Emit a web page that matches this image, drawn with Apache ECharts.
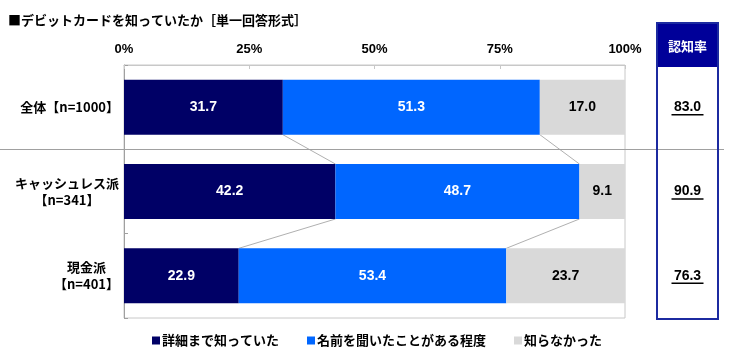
<!DOCTYPE html>
<html><head><meta charset="utf-8">
<script src="https://cdn.jsdelivr.net/npm/echarts@6/dist/echarts.min.js"></script>
<style>html,body{margin:0;padding:0;background:#fff}#c{width:732px;height:364px}</style>
</head><body><div id="c"></div>
<script>
const categories = ['全体【n=1000】', 'キャッシュレス派\n【n=341】', '現金派\n【n=401】'];
const seriesNames = ['詳細まで知っていた', '名前を聞いたことがある程度', '知らなかった'];
const detailed = [31.7, 42.2, 22.9];
const nameOnly = [51.3, 48.7, 53.4];
const unknown = [17.0, 9.1, 23.7];
const recognition = [83.0, 90.9, 76.3];
const xTickValues = [0, 25, 50, 75, 100];

const FONT = '"Noto Sans CJK JP", "Liberation Sans", sans-serif';
const NUMFONT = '"Liberation Sans", Arial, sans-serif';
const BAR_W = 55;
const colors = ['#000066', '#0066ff', '#d9d9d9'];
const labelColors = ['#ffffff', '#ffffff', '#000000'];
const BOX = {x: 657, y: 23, w: 61, h: 296, head: 44};

const chart = echarts.init(document.getElementById('c'), null, {renderer: 'canvas'});

function barSeries(idx, data) {
  return {
    name: seriesNames[idx], type: 'bar', stack: 'total', barWidth: BAR_W,
    data: data, itemStyle: {color: colors[idx]},
    label: {show: true, position: 'inside', color: labelColors[idx],
      fontFamily: NUMFONT, fontSize: 14, fontWeight: 'bold',
      formatter: p => p.value.toFixed(1)},
    emphasis: {disabled: true}
  };
}

const connectorData = [];
for (let i = 0; i < categories.length - 1; i++) {
  connectorData.push([detailed[i], detailed[i + 1], detailed[i] + nameOnly[i], detailed[i + 1] + nameOnly[i + 1], i]);
}

const option = {
  backgroundColor: '#fff',
  animation: false,
  title: {
    text: '■デビットカードを知っていたか［単一回答形式］',
    left: 8, top: 14, padding: 0,
    textStyle: {fontFamily: FONT, fontSize: 13, fontWeight: 'bold', color: '#000'}
  },
  legend: {
    data: seriesNames, left: 152, top: 334, padding: 0, itemWidth: 8, itemHeight: 8, itemGap: 28,
    icon: 'rect', selectedMode: false,
    textStyle: {fontFamily: FONT, fontSize: 13, fontWeight: 'bold', color: '#000', padding: [0, 0, 0, -3]}
  },
  grid: {left: 124, right: 107, top: 65, bottom: 46, show: true, borderColor: '#c8c8c8', borderWidth: 1},
  xAxis: {
    type: 'value', position: 'top', min: 0, max: 100, interval: 25,
    axisLine: {show: true, lineStyle: {color: '#c8c8c8'}},
    axisTick: {show: true, inside: true, length: 4, lineStyle: {color: '#c8c8c8'}},
    splitLine: {show: false},
    axisLabel: {margin: 9, fontFamily: NUMFONT, fontSize: 13, fontWeight: 'bold', color: '#000',
      formatter: v => xTickValues.indexOf(v) >= 0 ? v + '%' : ''}
  },
  yAxis: {
    type: 'category', inverse: true, data: categories,
    axisLine: {show: true, lineStyle: {color: '#a0a0a0'}},
    axisTick: {show: true, inside: true, length: 4, lineStyle: {color: '#a0a0a0'}},
    axisLabel: {
      margin: 5, align: 'right', lineHeight: 17,
      formatter: v => v.split('\n').map(s => '{c|' + s + '}').join('\n'),
      rich: {c: {align: 'center', fontFamily: FONT, fontSize: 13, fontWeight: 'bold', color: '#000', lineHeight: 17}}
    }
  },
  graphic: [
    {type: 'rect', shape: {x: BOX.x, y: BOX.y, width: BOX.w, height: BOX.head}, style: {fill: '#000099'}, z: 10},
    {type: 'rect', shape: {x: BOX.x, y: BOX.y, width: BOX.w, height: BOX.h}, style: {fill: 'none', stroke: '#1c2aa0', lineWidth: 2}, z: 11},
    {type: 'text', x: BOX.x + BOX.w / 2, y: BOX.y + BOX.head / 2 + 1, z: 12,
      style: {text: '認知率', fill: '#fff', font: 'bold 13px ' + FONT, textAlign: 'center', textVerticalAlign: 'middle'}}
  ],
  series: [
    barSeries(0, detailed),
    barSeries(1, nameOnly),
    barSeries(2, unknown),
    {
      type: 'custom', name: 'connectors', silent: true, z: 1, clip: false,
      data: connectorData,
      encode: {x: [0, 1, 2, 3], y: 4},
      renderItem: (params, api) => {
        const i = api.value(4);
        const half = BAR_W / 2;
        const lines = [];
        [[0, 1], [2, 3]].forEach(([a, b]) => {
          const p1 = api.coord([api.value(a), i]);
          const p2 = api.coord([api.value(b), i + 1]);
          lines.push({type: 'line', shape: {x1: p1[0], y1: p1[1] + half, x2: p2[0], y2: p2[1] - half},
            style: {stroke: '#b0b0b0', lineWidth: 1}});
        });
        return {type: 'group', children: lines};
      }
    },
    {
      type: 'custom', name: 'separator', silent: true, z: 1, clip: false,
      data: [[0, 0]],
      renderItem: (params, api) => {
        const a = api.coord([0, 0]);
        const b = api.coord([0, 1]);
        const y = Math.round((a[1] + b[1]) / 2) + 0.5;
        return {type: 'line', shape: {x1: 0, y1: y, x2: 724, y2: y}, style: {stroke: '#a0a0a0', lineWidth: 1}};
      }
    },
    {
      type: 'custom', name: 'recognition', silent: true, z: 5, clip: false,
      data: recognition.map((v, i) => [v, i]),
      encode: {x: 0, y: 1},
      renderItem: (params, api) => {
        const p = api.coord([0, api.value(1)]);
        const cx = BOX.x + BOX.w / 2;
        const txt = api.value(0).toFixed(1);
        return {type: 'group', children: [
          {type: 'text', x: cx, y: p[1], style: {text: txt, fill: '#000', font: 'bold 14px ' + NUMFONT, textAlign: 'center', textVerticalAlign: 'middle'}},
          {type: 'line', shape: {x1: cx - 16, y1: p[1] + 7.5, x2: cx + 16, y2: p[1] + 7.5}, style: {stroke: '#000', lineWidth: 1.5}}
        ]};
      }
    }
  ]
};
chart.setOption(option);
</script>
</body></html>
